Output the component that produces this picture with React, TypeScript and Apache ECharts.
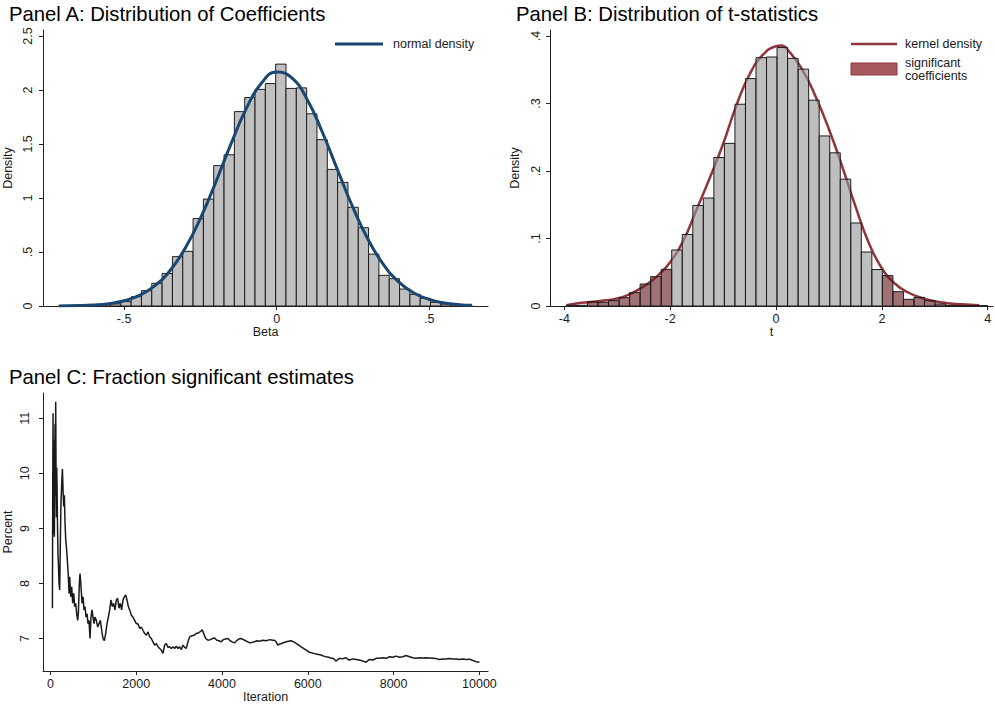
import React, { useEffect, useRef } from 'react';
import * as echarts from 'echarts';

// ---------- Panel A: distribution of coefficients ----------
const betaBinStart = -0.714;
const betaBinWidth = 0.03385;
const betaHeights = [
  0.003, 0.003, 0.006, 0.009, 0.012, 0.02, 0.04, 0.086, 0.142, 0.21,
  0.30, 0.457, 0.506, 0.81, 0.99, 1.30, 1.40, 1.80, 1.93, 2.006,
  2.06, 2.24, 2.015, 2.02, 1.78, 1.54, 1.265, 1.145, 0.914, 0.725,
  0.48, 0.284, 0.253, 0.157, 0.108, 0.071, 0.034, 0.018, 0.012, 0.01,
];
const normalX = [
  -0.714, -0.65, -0.6, -0.55, -0.5, -0.45, -0.4, -0.35, -0.3, -0.25, -0.2, -0.15, -0.1, -0.05,
  0, 0.05, 0.1, 0.15, 0.2, 0.25, 0.3, 0.35, 0.4, 0.45, 0.5, 0.55, 0.6, 0.64,
];
const normalY = [
  0.001, 0.0036, 0.0092, 0.0218, 0.048, 0.098, 0.186, 0.327, 0.534, 0.811, 1.144, 1.499, 1.825, 2.063,
  2.166, 2.112, 1.913, 1.609, 1.258, 0.913, 0.616, 0.385, 0.224, 0.121, 0.061, 0.028, 0.0123, 0.006,
];
const betaXTicks = [-0.5, 0, 0.5];
const betaYTicks = [0, 0.5, 1, 1.5, 2, 2.5];

// ---------- Panel B: distribution of t-statistics ----------
const tBinStart = -3.96;
const tBinWidth = 0.199;
const tCritical = 1.96;
const tHeights = [
  0.001, 0.001, 0.0064, 0.0054, 0.0079, 0.0123, 0.0198, 0.0326, 0.0435, 0.0543,
  0.083, 0.106, 0.149, 0.160, 0.220, 0.241, 0.299, 0.337, 0.368, 0.369,
  0.383, 0.367, 0.351, 0.305, 0.252, 0.227, 0.188, 0.123, 0.080, 0.054,
  0.045, 0.0212, 0.0099, 0.0128, 0.0079, 0.003, 0.001, 0.0005, 0.0005, 0.0005,
];
const kdeX = [
  -3.96, -3.75, -3.5, -3.25, -3, -2.75, -2.5, -2.25, -2, -1.75, -1.5, -1.25, -1, -0.75, -0.5, -0.25,
  0, 0.1, 0.25, 0.5, 0.75, 1, 1.25, 1.5, 1.75, 2, 2.25, 2.5, 2.75, 3, 3.25, 3.5, 3.84,
];
const kdeY = [
  0.001, 0.004, 0.006, 0.008, 0.011, 0.018, 0.029, 0.044, 0.065, 0.097, 0.143, 0.19, 0.24, 0.297, 0.343, 0.372,
  0.385, 0.386, 0.377, 0.35, 0.31, 0.262, 0.207, 0.148, 0.094, 0.056, 0.033, 0.02, 0.012, 0.007, 0.004, 0.0025, 0.001,
];
const tXTicks = [-4, -2, 0, 2, 4];
const tYTicks = [0, 0.1, 0.2, 0.3, 0.4];

// ---------- Panel C: fraction significant ----------
const iterations = [
  47, 55, 62, 70, 78, 86, 93, 101, 109, 116, 124, 132, 140, 148, 155, 167, 179, 190, 202, 217,
  233, 248, 264, 280, 295, 310, 326, 342, 357, 373, 396, 419, 435, 450, 474, 497, 520, 543, 567, 590,
  613, 637, 652, 675, 691, 714, 738, 761, 784, 807, 831, 854, 877, 901, 924, 947, 970, 994, 1017, 1040,
  1071, 1102, 1134, 1165, 1196, 1227, 1258, 1289, 1320, 1351, 1382, 1413, 1444, 1475, 1506, 1537, 1568, 1599, 1630, 1661,
  1693, 1724, 1755, 1786, 1817, 1848, 1887, 1925, 1964, 2003, 2042, 2081, 2120, 2158, 2197, 2236, 2275, 2314, 2352, 2391,
  2430, 2469, 2508, 2547, 2585, 2624, 2663, 2702, 2741, 2780, 2818, 2857, 2896, 2935, 2974, 3012, 3051, 3090, 3129, 3168,
  3207, 3245, 3300, 3350, 3400, 3450, 3500, 3540, 3580, 3620, 3672, 3730, 3780, 3827, 3880, 3930, 3982, 4030, 4080, 4137,
  4190, 4240, 4292, 4340, 4390, 4448, 4500, 4550, 4603, 4650, 4700, 4758, 4810, 4860, 4913, 4960, 5010, 5068, 5120, 5170,
  5224, 5260, 5301, 5350, 5420, 5495, 5550, 5611, 5670, 5728, 5790, 5844, 5900, 5960, 6020, 6077, 6135, 6193, 6250, 6309,
  6370, 6426, 6490, 6542, 6584, 6620, 6662, 6700, 6740, 6800, 6850, 6895, 6935, 6973, 7050, 7128, 7200, 7283, 7361, 7400,
  7438, 7520, 7594, 7670, 7749, 7830, 7904, 7980, 8060, 8140, 8215, 8292, 8370, 8448, 8520, 8603, 8680, 8758, 8840, 8914,
  8990, 9069, 9150, 9224, 9300, 9379, 9460, 9535, 9610, 9690, 9770, 9845, 9923, 10000,
];
const percents = [
  7.55, 9.76, 11.09, 8.9, 10.6, 9.3, 8.85, 10.2, 10.9, 9.6, 11.3, 10.0, 9.2, 10.1, 9.8, 9.0, 8.5, 8.3, 8.0, 7.88,
  8.8, 9.5, 9.8, 10.08, 9.7, 9.4, 9.6, 9.1, 8.8, 8.67, 8.42, 8.12, 7.82, 8.12, 7.76, 7.94, 7.64, 7.82, 7.58, 7.64,
  7.45, 7.33, 7.45, 8.0, 8.18, 7.94, 7.64, 7.76, 7.52, 7.58, 7.39, 7.45, 7.27, 7.33, 7.0, 7.39, 7.52, 7.39, 7.27, 7.39,
  7.33, 7.21, 7.27, 7.33, 7.15, 7.0, 6.96, 7.09, 7.27, 7.39, 7.52, 7.7, 7.58, 7.64, 7.52, 7.7, 7.73, 7.55, 7.64, 7.52,
  7.7, 7.76, 7.79, 7.7, 7.58, 7.52, 7.42, 7.39, 7.33, 7.27, 7.27, 7.18, 7.21, 7.15, 7.09, 7.06, 7.12, 7.03, 7.0, 6.94,
  6.88, 6.91, 6.85, 6.82, 6.79, 6.73, 6.88, 6.91, 6.84, 6.85, 6.82, 6.85, 6.82, 6.86, 6.82, 6.85, 6.8, 6.88, 6.84, 6.82,
  6.94, 7.03, 7.05, 7.06, 7.09, 7.1, 7.13, 7.16, 7.08, 7.0, 6.97, 6.98, 7.0, 7.01, 6.97, 6.96, 6.94, 6.98, 6.99, 7.0,
  6.96, 6.94, 6.92, 6.96, 6.99, 7.0, 6.98, 6.96, 6.94, 6.92, 6.93, 6.94, 6.96, 6.95, 6.96, 6.97, 6.96, 6.97, 6.98, 6.97,
  6.97, 6.94, 6.88, 6.9, 6.92, 6.94, 6.95, 6.96, 6.94, 6.91, 6.88, 6.85, 6.82, 6.79, 6.76, 6.74, 6.73, 6.72, 6.71, 6.7,
  6.68, 6.67, 6.66, 6.64, 6.64, 6.62, 6.59, 6.62, 6.64, 6.63, 6.64, 6.65, 6.62, 6.61, 6.63, 6.62, 6.61, 6.59, 6.57, 6.6,
  6.62, 6.61, 6.64, 6.64, 6.65, 6.64, 6.67, 6.66, 6.68, 6.66, 6.67, 6.69, 6.67, 6.65, 6.64, 6.65, 6.645, 6.65, 6.645, 6.64,
  6.635, 6.62, 6.63, 6.63, 6.635, 6.63, 6.63, 6.62, 6.63, 6.62, 6.625, 6.6, 6.58, 6.57,
];
const iterXTicks = [0, 2000, 4000, 6000, 8000, 10000];
const pctYTicks = [7, 8, 9, 10, 11];

const FONT = '"Liberation Sans", Arial, Helvetica, sans-serif';
const TXT = '#1a1a1a';
const AX = '#222';

const fmt = (v: number) => {
  if (v === 0) return '0';
  return String(v).replace(/^(-?)0\./, '$1.');
};

function xAxisCfg(gridIndex: number, min: number, max: number, ticks: number[], name: string) {
  return {
    type: 'value', gridIndex, min, max, name, nameLocation: 'middle', nameGap: 18,
    nameTextStyle: { color: TXT, fontSize: 12.5, fontFamily: FONT },
    axisLine: { show: true, onZero: false, lineStyle: { color: AX, width: 1 } },
    axisTick: { show: true, length: 4, customValues: ticks, lineStyle: { color: AX } },
    axisLabel: { customValues: ticks, formatter: fmt, color: TXT, fontSize: 12.5, fontFamily: FONT, margin: 6 },
    splitLine: { show: false },
  };
}
function yAxisCfg(gridIndex: number, min: number, max: number, ticks: number[], name: string, margin: number) {
  return {
    type: 'value', gridIndex, min, max, name, nameLocation: 'middle', nameGap: 29,
    nameTextStyle: { color: TXT, fontSize: 12.5, fontFamily: FONT },
    axisLine: { show: true, onZero: false, lineStyle: { color: AX, width: 1 } },
    axisTick: { show: true, length: 4, customValues: ticks, lineStyle: { color: AX } },
    axisLabel: { customValues: ticks, formatter: fmt, rotate: 90, color: TXT, fontSize: 12.5, fontFamily: FONT, margin },
    splitLine: { show: false },
  };
}

function histRender(colorOf: (x0: number, x1: number) => string) {
  return (params: any, api: any) => {
    const x0 = api.value(0);
    const x1 = api.value(1);
    const h = api.value(2);
    const p0 = api.coord([x0, h]);
    const p1 = api.coord([x1, 0]);
    return {
      type: 'rect',
      shape: { x: p0[0], y: p0[1], width: p1[0] - p0[0], height: p1[1] - p0[1] },
      style: { fill: colorOf(x0, x1), stroke: '#1c1c1c', lineWidth: 1 },
    };
  };
}

export default function App() {
  const ref = useRef<HTMLDivElement>(null);
  useEffect(() => {
    if (!ref.current) return;
    const chart = echarts.init(ref.current, null, { renderer: 'svg' });
    const betaBins = betaHeights.map((h, i) => [betaBinStart + i * betaBinWidth, betaBinStart + (i + 1) * betaBinWidth, h]);
    const tBins = tHeights.map((h, i) => [tBinStart + i * tBinWidth, tBinStart + (i + 1) * tBinWidth, h]);
    const option: any = {
      animation: false,
      backgroundColor: '#fff',
      grid: [
        { left: 43, top: 30, width: 445, height: 276 },
        { left: 550, top: 30, width: 443, height: 276 },
        { left: 43, top: 393, width: 445, height: 278 },
      ],
      xAxis: [
        xAxisCfg(0, -0.766, 0.693, betaXTicks, 'Beta'),
        xAxisCfg(1, -4.27, 4.1, tXTicks, 't'),
        xAxisCfg(2, -172, 10200, iterXTicks, 'Iteration'),
      ],
      yAxis: [
        yAxisCfg(0, 0, 2.556, betaYTicks, 'Density', 9),
        yAxisCfg(1, 0, 0.409, tYTicks, 'Density', 8),
        yAxisCfg(2, 6.41, 11.46, pctYTicks, 'Percent', 12),
      ],
      series: [
        {
          type: 'custom', xAxisIndex: 0, yAxisIndex: 0, z: 2,
          renderItem: histRender(() => '#c0c0c0'),
          encode: { x: [0, 1], y: 2 },
          data: betaBins,
        },
        {
          type: 'line', xAxisIndex: 0, yAxisIndex: 0, z: 3, smooth: true, showSymbol: false,
          lineStyle: { color: '#1a476f', width: 3 },
          data: normalX.map((x, i) => [x, normalY[i]]),
        },
        {
          type: 'line', xAxisIndex: 1, yAxisIndex: 1, z: 1, smooth: true, showSymbol: false,
          lineStyle: { color: '#90353b', width: 2.5 },
          data: kdeX.map((x, i) => [x, kdeY[i]]),
        },
        {
          type: 'custom', xAxisIndex: 1, yAxisIndex: 1, z: 2,
          renderItem: histRender((x0, x1) =>
            x1 <= -tCritical + 0.001 || x0 >= tCritical - 0.001 ? 'rgba(101,27,32,0.62)' : 'rgba(150,150,150,0.62)'),
          encode: { x: [0, 1], y: 2 },
          data: tBins,
        },
        {
          type: 'line', xAxisIndex: 2, yAxisIndex: 2, z: 2, showSymbol: false,
          lineStyle: { color: '#1a1a1a', width: 1.5 },
          data: iterations.map((x, i) => [x, percents[i]]),
        },
      ],
      graphic: [
        { type: 'text', left: 9, top: 4, style: { text: 'Panel A: Distribution of Coefficients', font: `20.3px ${FONT}`, fill: '#000' } },
        { type: 'text', left: 516, top: 4, style: { text: 'Panel B: Distribution of t-statistics', font: `20.3px ${FONT}`, fill: '#000' } },
        { type: 'text', left: 9, top: 367, style: { text: 'Panel C: Fraction significant estimates', font: `20.3px ${FONT}`, fill: '#000' } },
        { type: 'line', shape: { x1: 335, y1: 44, x2: 383, y2: 44 }, style: { stroke: '#1a476f', lineWidth: 3 } },
        { type: 'text', x: 393, y: 44, style: { text: 'normal density', font: `12.5px ${FONT}`, fill: TXT, verticalAlign: 'middle' } },
        { type: 'line', shape: { x1: 851, y1: 44, x2: 897, y2: 44 }, style: { stroke: '#90353b', lineWidth: 2.5 } },
        { type: 'text', x: 905, y: 44, style: { text: 'kernel density', font: `12.5px ${FONT}`, fill: TXT, verticalAlign: 'middle' } },
        { type: 'rect', shape: { x: 851, y: 63, width: 46, height: 12 }, style: { fill: '#a5585e', stroke: '#90353b', lineWidth: 1 } },
        { type: 'text', x: 905, y: 63, style: { text: 'significant', font: `12.5px ${FONT}`, fill: TXT, verticalAlign: 'middle' } },
        { type: 'text', x: 905, y: 75.5, style: { text: 'coefficients', font: `12.5px ${FONT}`, fill: TXT, verticalAlign: 'middle' } },
      ],
    };
    chart.setOption(option);
    return () => chart.dispose();
  }, []);
  return <div ref={ref} style={{ position: 'absolute', left: 0, top: 0, width: 995, height: 706, background: '#fff' }} />;
}
